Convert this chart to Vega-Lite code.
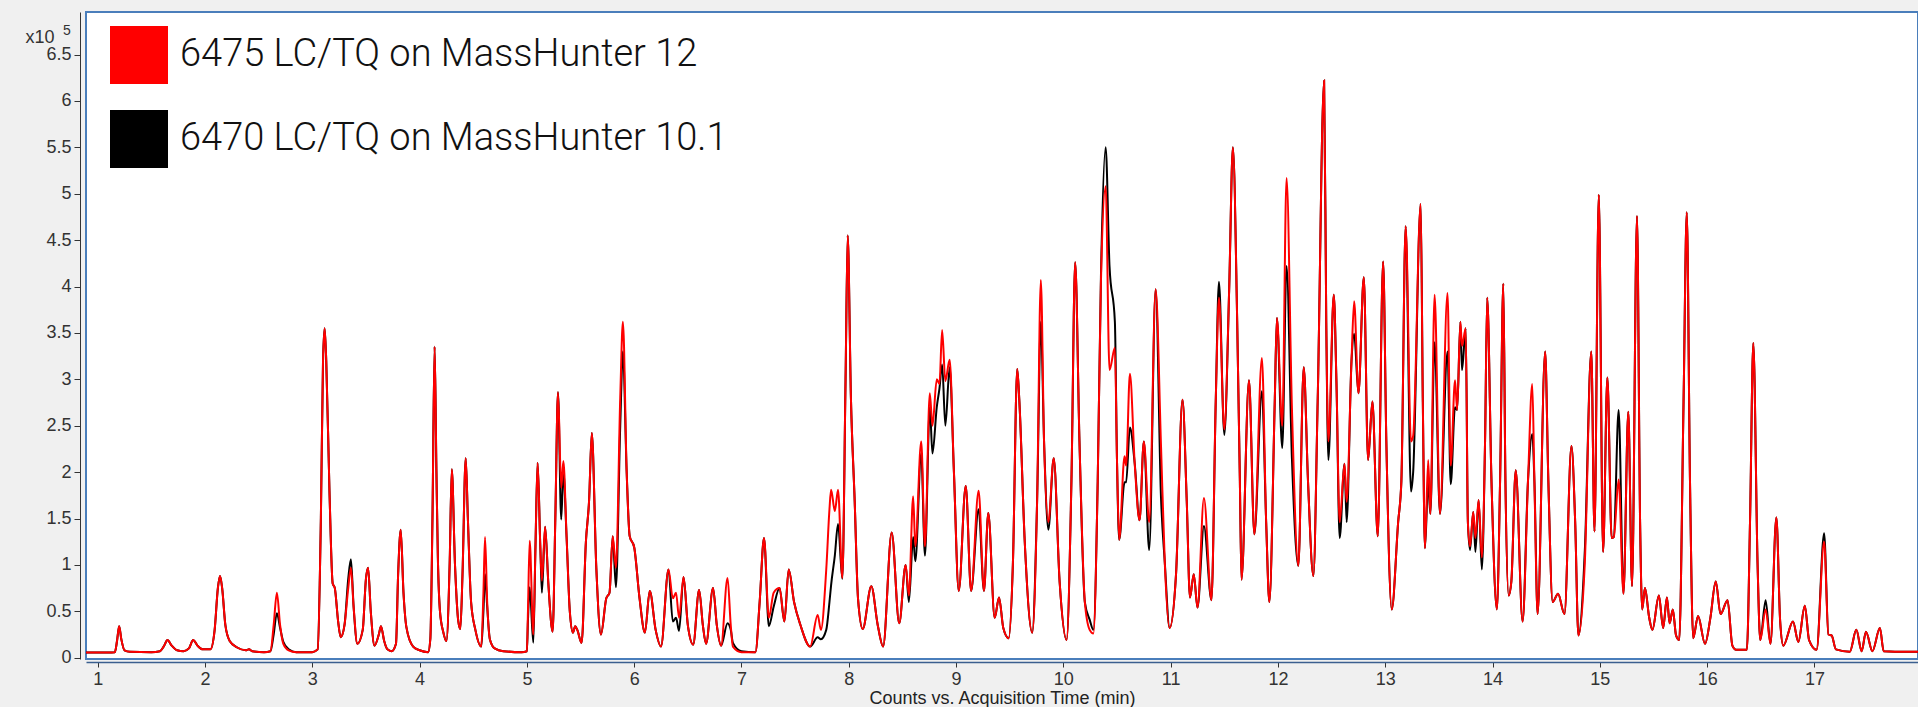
{
"$schema": "https://vega.github.io/schema/vega-lite/v6.json",
"width": 1832, "height": 647,
"autosize": {"type": "none"},
"padding": {"left": 86, "top": 12, "right": 0, "bottom": 48},
"background": "#f0f0f0",
"config": {
 "view": {"stroke": "#4a7ebb", "strokeWidth": 2, "fill": "#ffffff"},
 "axis": {"grid": false, "labelFont": "Liberation Sans", "labelFontSize": 18, "labelColor": "#333333", "tickColor": "#333333", "domainColor": "#333333", "titleFont": "Liberation Sans", "titleFontWeight": "normal", "titleFontSize": 18, "titleColor": "#333333"}
},
"title": {"text": "5", "anchor": "start", "frame": "group", "orient": "top", "offset": 0, "dx": -23, "dy": 37, "fontSize": 14, "fontWeight": "normal", "font": "Liberation Sans", "color": "#333333", "baseline": "alphabetic"},
"data": {"values": [
{"t":0.891,"red":0.057,"black":0.057},{"t":1.0,"red":0.057,"black":0.057},{"t":1.1,"red":0.057,"black":0.057},{"t":1.16,"red":0.06,"black":0.06},{"t":1.18,"red":0.18,"black":0.18},{"t":1.2,"red":0.34,"black":0.34},{"t":1.22,"red":0.2,"black":0.2},{"t":1.25,"red":0.08,"black":0.08},{"t":1.3,"red":0.065,"black":0.065},{"t":1.5,"red":0.06,"black":0.06},{"t":1.58,"red":0.07,"black":0.07},{"t":1.62,"red":0.13,"black":0.13},{"t":1.65,"red":0.19,"black":0.19},{"t":1.69,"red":0.13,"black":0.13},{"t":1.74,"red":0.08,"black":0.08},{"t":1.8,"red":0.07,"black":0.07},{"t":1.85,"red":0.1,"black":0.1},{"t":1.89,"red":0.19,"black":0.19},{"t":1.93,"red":0.13,"black":0.13},{"t":1.98,"red":0.09,"black":0.09},{"t":2.05,"red":0.09,"black":0.09},{"t":2.09,"red":0.3,"black":0.3},{"t":2.12,"red":0.75,"black":0.75},{"t":2.14,"red":0.88,"black":0.88},{"t":2.16,"red":0.75,"black":0.75},{"t":2.19,"red":0.35,"black":0.35},{"t":2.23,"red":0.18,"black":0.18},{"t":2.3,"red":0.11,"black":0.11},{"t":2.38,"red":0.08,"black":0.08},{"t":2.41,"red":0.09,"black":0.09},{"t":2.44,"red":0.07,"black":0.07},{"t":2.55,"red":0.06,"black":0.06},{"t":2.61,"red":0.07,"black":0.07},{"t":2.64,"red":0.35,"black":0.25},{"t":2.67,"red":0.7,"black":0.48},{"t":2.7,"red":0.35,"black":0.32},{"t":2.73,"red":0.15,"black":0.17},{"t":2.78,"red":0.08,"black":0.09},{"t":2.85,"red":0.06,"black":0.06},{"t":3.0,"red":0.06,"black":0.06},{"t":3.05,"red":0.09,"black":0.09},{"t":3.08,"red":1.5,"black":1.5},{"t":3.1,"red":3.2,"black":3.2},{"t":3.115,"red":3.55,"black":3.55},{"t":3.13,"red":3.2,"black":3.2},{"t":3.16,"red":1.8,"black":1.8},{"t":3.19,"red":0.8,"black":0.8},{"t":3.21,"red":0.75,"black":0.75},{"t":3.24,"red":0.4,"black":0.4},{"t":3.265,"red":0.22,"black":0.22},{"t":3.3,"red":0.35,"black":0.35},{"t":3.335,"red":0.75,"black":0.85},{"t":3.36,"red":0.97,"black":1.06},{"t":3.385,"red":0.55,"black":0.55},{"t":3.42,"red":0.15,"black":0.15},{"t":3.47,"red":0.3,"black":0.3},{"t":3.5,"red":0.85,"black":0.85},{"t":3.52,"red":0.97,"black":0.97},{"t":3.545,"red":0.5,"black":0.5},{"t":3.58,"red":0.13,"black":0.13},{"t":3.62,"red":0.25,"black":0.25},{"t":3.64,"red":0.34,"black":0.34},{"t":3.67,"red":0.18,"black":0.18},{"t":3.7,"red":0.09,"black":0.09},{"t":3.74,"red":0.07,"black":0.07},{"t":3.78,"red":0.15,"black":0.15},{"t":3.8,"red":0.9,"black":0.9},{"t":3.824,"red":1.38,"black":1.38},{"t":3.85,"red":0.7,"black":0.7},{"t":3.877,"red":0.33,"black":0.33},{"t":3.94,"red":0.12,"black":0.12},{"t":4.0,"red":0.08,"black":0.08},{"t":4.08,"red":0.06,"black":0.06},{"t":4.1,"red":0.2,"black":0.2},{"t":4.12,"red":1.5,"black":1.5},{"t":4.14,"red":3.35,"black":3.35},{"t":4.157,"red":2.0,"black":2.0},{"t":4.17,"red":1.1,"black":1.1},{"t":4.19,"red":0.5,"black":0.5},{"t":4.22,"red":0.28,"black":0.28},{"t":4.25,"red":0.18,"black":0.18},{"t":4.28,"red":1.0,"black":1.0},{"t":4.3,"red":2.03,"black":2.03},{"t":4.33,"red":1.0,"black":1.0},{"t":4.36,"red":0.4,"black":0.4},{"t":4.38,"red":0.31,"black":0.31},{"t":4.4,"red":0.9,"black":0.9},{"t":4.43,"red":2.15,"black":2.15},{"t":4.45,"red":1.5,"black":1.5},{"t":4.48,"red":0.6,"black":0.6},{"t":4.52,"red":0.3,"black":0.3},{"t":4.575,"red":0.12,"black":0.12},{"t":4.595,"red":0.7,"black":0.5},{"t":4.61,"red":1.3,"black":0.9},{"t":4.63,"red":0.6,"black":0.55},{"t":4.655,"red":0.2,"black":0.2},{"t":4.7,"red":0.1,"black":0.1},{"t":4.78,"red":0.07,"black":0.07},{"t":4.95,"red":0.06,"black":0.06},{"t":5.0,"red":0.07,"black":0.07},{"t":5.01,"red":0.5,"black":0.4},{"t":5.026,"red":1.26,"black":0.76},{"t":5.06,"red":0.25,"black":0.16},{"t":5.08,"red":1.2,"black":1.2},{"t":5.1,"red":2.1,"black":2.1},{"t":5.125,"red":1.2,"black":1.2},{"t":5.14,"red":0.83,"black":0.7},{"t":5.17,"red":1.41,"black":1.41},{"t":5.2,"red":0.8,"black":0.8},{"t":5.24,"red":0.28,"black":0.28},{"t":5.265,"red":1.5,"black":1.5},{"t":5.29,"red":2.86,"black":2.86},{"t":5.32,"red":1.83,"black":1.49},{"t":5.34,"red":2.12,"black":2.0},{"t":5.37,"red":1.3,"black":1.3},{"t":5.4,"red":0.5,"black":0.5},{"t":5.43,"red":0.27,"black":0.27},{"t":5.45,"red":0.34,"black":0.34},{"t":5.47,"red":0.3,"black":0.3},{"t":5.51,"red":0.16,"black":0.16},{"t":5.55,"red":1.25,"black":1.25},{"t":5.58,"red":1.7,"black":1.7},{"t":5.605,"red":2.42,"black":2.42},{"t":5.647,"red":0.97,"black":0.97},{"t":5.69,"red":0.25,"black":0.25},{"t":5.74,"red":0.64,"black":0.64},{"t":5.77,"red":0.7,"black":0.7},{"t":5.8,"red":1.31,"black":1.31},{"t":5.83,"red":0.97,"black":0.76},{"t":5.87,"red":2.8,"black":2.5},{"t":5.895,"red":3.62,"black":3.3},{"t":5.93,"red":2.0,"black":2.0},{"t":5.958,"red":1.31,"black":1.31},{"t":6.0,"red":1.19,"black":1.19},{"t":6.05,"red":0.64,"black":0.64},{"t":6.1,"red":0.27,"black":0.27},{"t":6.145,"red":0.72,"black":0.72},{"t":6.2,"red":0.3,"black":0.3},{"t":6.25,"red":0.12,"black":0.12},{"t":6.32,"red":0.95,"black":0.95},{"t":6.36,"red":0.64,"black":0.39},{"t":6.39,"red":0.7,"black":0.43},{"t":6.418,"red":0.43,"black":0.29},{"t":6.46,"red":0.87,"black":0.87},{"t":6.5,"red":0.35,"black":0.35},{"t":6.55,"red":0.14,"black":0.14},{"t":6.605,"red":0.73,"black":0.73},{"t":6.64,"red":0.35,"black":0.35},{"t":6.67,"red":0.15,"black":0.15},{"t":6.735,"red":0.75,"black":0.75},{"t":6.77,"red":0.35,"black":0.35},{"t":6.81,"red":0.13,"black":0.13},{"t":6.87,"red":0.86,"black":0.37},{"t":6.9,"red":0.35,"black":0.3},{"t":6.92,"red":0.12,"black":0.16},{"t":7.0,"red":0.06,"black":0.07},{"t":7.13,"red":0.06,"black":0.06},{"t":7.17,"red":0.61,"black":0.61},{"t":7.21,"red":1.29,"black":1.29},{"t":7.255,"red":0.43,"black":0.34},{"t":7.3,"red":0.7,"black":0.55},{"t":7.355,"red":0.75,"black":0.75},{"t":7.4,"red":0.39,"black":0.39},{"t":7.44,"red":0.95,"black":0.95},{"t":7.49,"red":0.6,"black":0.6},{"t":7.55,"red":0.35,"black":0.35},{"t":7.64,"red":0.12,"black":0.12},{"t":7.71,"red":0.46,"black":0.22},{"t":7.74,"red":0.3,"black":0.2},{"t":7.79,"red":0.95,"black":0.3},{"t":7.82,"red":1.6,"black":0.6},{"t":7.835,"red":1.81,"black":0.78},{"t":7.87,"red":1.58,"black":1.1},{"t":7.9,"red":1.81,"black":1.44},{"t":7.94,"red":0.86,"black":0.85},{"t":7.97,"red":3.0,"black":3.0},{"t":7.99,"red":4.55,"black":4.55},{"t":8.02,"red":2.8,"black":2.8},{"t":8.055,"red":1.69,"black":1.69},{"t":8.086,"red":0.64,"black":0.64},{"t":8.13,"red":0.31,"black":0.31},{"t":8.21,"red":0.77,"black":0.77},{"t":8.27,"red":0.35,"black":0.35},{"t":8.32,"red":0.12,"black":0.12},{"t":8.4,"red":1.35,"black":1.35},{"t":8.47,"red":0.37,"black":0.37},{"t":8.53,"red":1.0,"black":1.0},{"t":8.56,"red":0.67,"black":0.6},{"t":8.6,"red":1.74,"black":1.3},{"t":8.62,"red":1.2,"black":1.04},{"t":8.675,"red":2.33,"black":2.2},{"t":8.71,"red":1.2,"black":1.1},{"t":8.755,"red":2.85,"black":2.7},{"t":8.78,"red":2.5,"black":2.2},{"t":8.82,"red":3.0,"black":2.7},{"t":8.845,"red":2.95,"black":2.9},{"t":8.87,"red":3.53,"black":3.16},{"t":8.9,"red":2.98,"black":2.5},{"t":8.94,"red":3.21,"black":3.13},{"t":8.98,"red":2.0,"black":2.0},{"t":9.025,"red":0.72,"black":0.72},{"t":9.09,"red":1.85,"black":1.85},{"t":9.14,"red":0.72,"black":0.72},{"t":9.21,"red":1.8,"black":1.6},{"t":9.26,"red":0.72,"black":0.72},{"t":9.3,"red":1.56,"black":1.56},{"t":9.36,"red":0.43,"black":0.43},{"t":9.4,"red":0.65,"black":0.65},{"t":9.44,"red":0.32,"black":0.32},{"t":9.49,"red":0.21,"black":0.21},{"t":9.53,"red":1.03,"black":1.03},{"t":9.57,"red":3.11,"black":3.11},{"t":9.59,"red":2.76,"black":2.76},{"t":9.64,"red":1.25,"black":1.25},{"t":9.71,"red":0.27,"black":0.27},{"t":9.755,"red":1.68,"black":1.68},{"t":9.79,"red":4.07,"black":3.62},{"t":9.82,"red":2.33,"black":2.33},{"t":9.86,"red":1.46,"black":1.38},{"t":9.91,"red":2.15,"black":2.15},{"t":9.965,"red":0.82,"black":0.82},{"t":10.03,"red":0.19,"black":0.19},{"t":10.075,"red":1.9,"black":1.9},{"t":10.11,"red":4.26,"black":4.26},{"t":10.15,"red":2.33,"black":2.33},{"t":10.2,"red":0.6,"black":0.6},{"t":10.245,"red":0.3,"black":0.41},{"t":10.28,"red":0.26,"black":0.3},{"t":10.32,"red":1.9,"black":1.9},{"t":10.35,"red":4.05,"black":4.1},{"t":10.394,"red":5.08,"black":5.5},{"t":10.43,"red":3.1,"black":4.22},{"t":10.48,"red":3.34,"black":3.62},{"t":10.5,"red":2.11,"black":2.11},{"t":10.52,"red":1.27,"black":1.27},{"t":10.57,"red":2.17,"black":1.89},{"t":10.585,"red":2.07,"black":1.89},{"t":10.62,"red":3.06,"black":2.48},{"t":10.665,"red":2.09,"black":2.09},{"t":10.71,"red":1.48,"black":1.48},{"t":10.75,"red":2.33,"black":2.33},{"t":10.8,"red":1.46,"black":1.16},{"t":10.86,"red":3.97,"black":3.97},{"t":10.91,"red":2.28,"black":1.72},{"t":10.945,"red":1.03,"black":1.03},{"t":10.99,"red":0.32,"black":0.32},{"t":11.05,"red":0.9,"black":0.9},{"t":11.11,"red":2.78,"black":2.78},{"t":11.15,"red":1.68,"black":1.68},{"t":11.18,"red":0.65,"black":0.65},{"t":11.215,"red":0.9,"black":0.9},{"t":11.25,"red":0.54,"black":0.54},{"t":11.31,"red":1.72,"black":1.42},{"t":11.38,"red":0.62,"black":0.62},{"t":11.42,"red":2.76,"black":2.76},{"t":11.45,"red":3.88,"black":4.05},{"t":11.5,"red":2.46,"black":2.4},{"t":11.545,"red":3.96,"black":3.96},{"t":11.58,"red":5.5,"black":5.5},{"t":11.62,"red":3.62,"black":3.62},{"t":11.645,"red":1.9,"black":1.9},{"t":11.66,"red":0.84,"black":0.84},{"t":11.73,"red":2.99,"black":2.99},{"t":11.78,"red":1.33,"black":1.33},{"t":11.85,"red":3.23,"black":2.87},{"t":11.89,"red":1.46,"black":1.46},{"t":11.92,"red":0.6,"black":0.6},{"t":11.97,"red":2.76,"black":2.76},{"t":11.99,"red":3.66,"black":3.66},{"t":12.04,"red":2.5,"black":2.26},{"t":12.08,"red":5.17,"black":4.22},{"t":12.13,"red":2.69,"black":2.15},{"t":12.19,"red":0.99,"black":0.99},{"t":12.24,"red":3.13,"black":3.13},{"t":12.28,"red":1.9,"black":1.9},{"t":12.33,"red":0.88,"black":0.88},{"t":12.37,"red":2.76,"black":2.76},{"t":12.43,"red":6.22,"black":6.22},{"t":12.45,"red":3.62,"black":3.62},{"t":12.47,"red":2.33,"black":2.13},{"t":12.52,"red":3.91,"black":3.91},{"t":12.545,"red":2.97,"black":2.97},{"t":12.575,"red":1.46,"black":1.29},{"t":12.62,"red":2.09,"black":2.09},{"t":12.64,"red":1.68,"black":1.46},{"t":12.685,"red":3.19,"black":3.19},{"t":12.71,"red":3.84,"black":3.49},{"t":12.75,"red":2.85,"black":2.85},{"t":12.8,"red":4.1,"black":4.1},{"t":12.84,"red":2.13,"black":2.13},{"t":12.88,"red":2.76,"black":2.76},{"t":12.93,"red":1.31,"black":1.31},{"t":12.98,"red":4.27,"black":4.27},{"t":13.01,"red":2.33,"black":2.33},{"t":13.06,"red":0.52,"black":0.52},{"t":13.12,"red":1.46,"black":1.46},{"t":13.15,"red":1.9,"black":1.9},{"t":13.19,"red":4.65,"black":4.65},{"t":13.24,"red":2.33,"black":1.79},{"t":13.26,"red":2.39,"black":2.0},{"t":13.33,"red":4.89,"black":4.89},{"t":13.35,"red":2.76,"black":2.76},{"t":13.37,"red":1.18,"black":1.18},{"t":13.4,"red":2.13,"black":1.9},{"t":13.42,"red":1.55,"black":1.55},{"t":13.46,"red":3.91,"black":3.4},{"t":13.51,"red":1.55,"black":1.55},{"t":13.58,"red":3.93,"black":3.3},{"t":13.61,"red":2.07,"black":1.87},{"t":13.65,"red":2.99,"black":2.7},{"t":13.67,"red":2.67,"black":2.67},{"t":13.7,"red":3.62,"black":3.62},{"t":13.715,"red":3.36,"black":3.1},{"t":13.75,"red":3.55,"black":3.55},{"t":13.77,"red":1.46,"black":1.46},{"t":13.79,"red":1.2,"black":1.16},{"t":13.82,"red":1.57,"black":1.57},{"t":13.84,"red":1.29,"black":1.14},{"t":13.87,"red":1.7,"black":1.7},{"t":13.9,"red":1.08,"black":0.95},{"t":13.93,"red":2.33,"black":2.33},{"t":13.95,"red":3.88,"black":3.88},{"t":13.99,"red":1.9,"black":1.9},{"t":14.04,"red":0.52,"black":0.52},{"t":14.07,"red":1.9,"black":1.9},{"t":14.1,"red":4.03,"black":4.03},{"t":14.12,"red":1.9,"black":1.9},{"t":14.15,"red":0.67,"black":0.67},{"t":14.175,"red":0.82,"black":0.82},{"t":14.216,"red":2.02,"black":2.02},{"t":14.28,"red":0.39,"black":0.39},{"t":14.33,"red":1.9,"black":1.9},{"t":14.37,"red":2.95,"black":2.41},{"t":14.39,"red":1.9,"black":1.9},{"t":14.42,"red":0.47,"black":0.47},{"t":14.49,"red":3.3,"black":3.3},{"t":14.52,"red":1.9,"black":1.9},{"t":14.56,"red":0.6,"black":0.6},{"t":14.61,"red":0.69,"black":0.69},{"t":14.67,"red":0.47,"black":0.47},{"t":14.735,"red":2.28,"black":2.28},{"t":14.77,"red":1.46,"black":1.46},{"t":14.8,"red":0.24,"black":0.24},{"t":14.86,"red":1.03,"black":1.16},{"t":14.92,"red":3.3,"black":3.3},{"t":14.95,"red":1.36,"black":1.36},{"t":14.99,"red":4.99,"black":4.99},{"t":15.03,"red":1.14,"black":1.14},{"t":15.07,"red":3.02,"black":3.02},{"t":15.11,"red":1.29,"black":1.29},{"t":15.13,"red":1.3,"black":1.3},{"t":15.175,"red":1.92,"black":2.67},{"t":15.22,"red":0.69,"black":0.69},{"t":15.265,"red":2.65,"black":2.65},{"t":15.3,"red":0.77,"black":0.77},{"t":15.346,"red":4.76,"black":4.76},{"t":15.375,"red":1.46,"black":1.46},{"t":15.395,"red":0.52,"black":0.52},{"t":15.42,"red":0.75,"black":0.75},{"t":15.46,"red":0.43,"black":0.43},{"t":15.49,"red":0.3,"black":0.3},{"t":15.55,"red":0.67,"black":0.67},{"t":15.59,"red":0.32,"black":0.32},{"t":15.625,"red":0.65,"black":0.65},{"t":15.65,"red":0.37,"black":0.37},{"t":15.68,"red":0.52,"black":0.52},{"t":15.71,"red":0.24,"black":0.24},{"t":15.74,"red":0.19,"black":0.19},{"t":15.78,"red":2.76,"black":2.76},{"t":15.81,"red":4.8,"black":4.8},{"t":15.84,"red":1.9,"black":1.9},{"t":15.87,"red":0.21,"black":0.21},{"t":15.915,"red":0.45,"black":0.45},{"t":15.98,"red":0.15,"black":0.15},{"t":16.03,"red":0.43,"black":0.43},{"t":16.08,"red":0.82,"black":0.82},{"t":16.125,"red":0.47,"black":0.47},{"t":16.19,"red":0.62,"black":0.62},{"t":16.235,"red":0.13,"black":0.13},{"t":16.27,"red":0.085,"black":0.085},{"t":16.37,"red":0.085,"black":0.085},{"t":16.4,"red":1.5,"black":1.5},{"t":16.43,"red":3.39,"black":3.39},{"t":16.47,"red":1.0,"black":1.0},{"t":16.495,"red":0.19,"black":0.19},{"t":16.545,"red":0.52,"black":0.62},{"t":16.59,"red":0.15,"black":0.15},{"t":16.645,"red":1.51,"black":1.51},{"t":16.68,"red":0.4,"black":0.4},{"t":16.71,"red":0.13,"black":0.13},{"t":16.8,"red":0.39,"black":0.39},{"t":16.85,"red":0.17,"black":0.17},{"t":16.91,"red":0.56,"black":0.56},{"t":16.95,"red":0.19,"black":0.19},{"t":17.02,"red":0.086,"black":0.086},{"t":17.09,"red":1.25,"black":1.34},{"t":17.13,"red":0.25,"black":0.25},{"t":17.16,"red":0.24,"black":0.24},{"t":17.2,"red":0.09,"black":0.09},{"t":17.33,"red":0.065,"black":0.065},{"t":17.39,"red":0.3,"black":0.3},{"t":17.44,"red":0.07,"black":0.07},{"t":17.48,"red":0.28,"black":0.28},{"t":17.54,"red":0.07,"black":0.07},{"t":17.61,"red":0.32,"black":0.32},{"t":17.645,"red":0.07,"black":0.07},{"t":17.75,"red":0.065,"black":0.065},{"t":17.965,"red":0.065,"black":0.065}
]},
"encoding": {
 "x": {"field": "t", "type": "quantitative", "scale": {"domain": [0.891, 17.965], "nice": false, "zero": false},
  "axis": {"title": "Counts vs. Acquisition Time (min)", "values": [1,2,3,4,5,6,7,8,9,10,11,12,13,14,15,16,17], "format": "d", "offset": 3, "tickSize": 5, "labelPadding": 3, "domainColor": "#3b5f8f", "domainWidth": 1.5, "titleBaseline": "alphabetic", "titleY": 41, "titleColor": "#222222"}}
},
"layer": [
 {"mark": {"type": "line", "interpolate": "monotone", "strokeWidth": 2},
  "encoding": {
   "y": {"field": "black", "type": "quantitative", "scale": {"domain": [-0.014, 6.958], "nice": false, "zero": false},
    "axis": {"title": "x10", "titleAngle": 0, "titleX": -55, "titleY": 30, "titleAlign": "left", "titleBaseline": "alphabetic", "offset": 6, "tickSize": 6, "labelPadding": 3, "values": [0,0.5,1,1.5,2,2.5,3,3.5,4,4.5,5,5.5,6,6.5], "format": "~g"}},
   "color": {"datum": "6470 LC/TQ on MassHunter 10.1", "type": "nominal",
    "scale": {"domain": ["6475 LC/TQ on MassHunter 12", "6470 LC/TQ on MassHunter 10.1"], "range": ["#ff0000", "#000000"]},
    "legend": {"orient": "none", "legendX": 24, "legendY": 14, "title": null, "symbolType": "square", "symbolSize": 3364, "symbolStrokeWidth": 0, "labelFont": "Roboto Light, Roboto", "labelFontWeight": 300, "labelFontSize": 38, "labelColor": "#111111", "labelOffset": 12, "rowPadding": 26, "padding": 0, "labelLimit": 0,
     "encode": {"symbols": {"update": {"fill": {"scale": "color", "field": "value"}, "stroke": {"value": "transparent"}, "opacity": {"value": 1}}}}}}
  }},
 {"mark": {"type": "line", "interpolate": "monotone", "strokeWidth": 2},
  "encoding": {
   "y": {"field": "red", "type": "quantitative"},
   "color": {"datum": "6475 LC/TQ on MassHunter 12", "type": "nominal"}
  }}
]
}
